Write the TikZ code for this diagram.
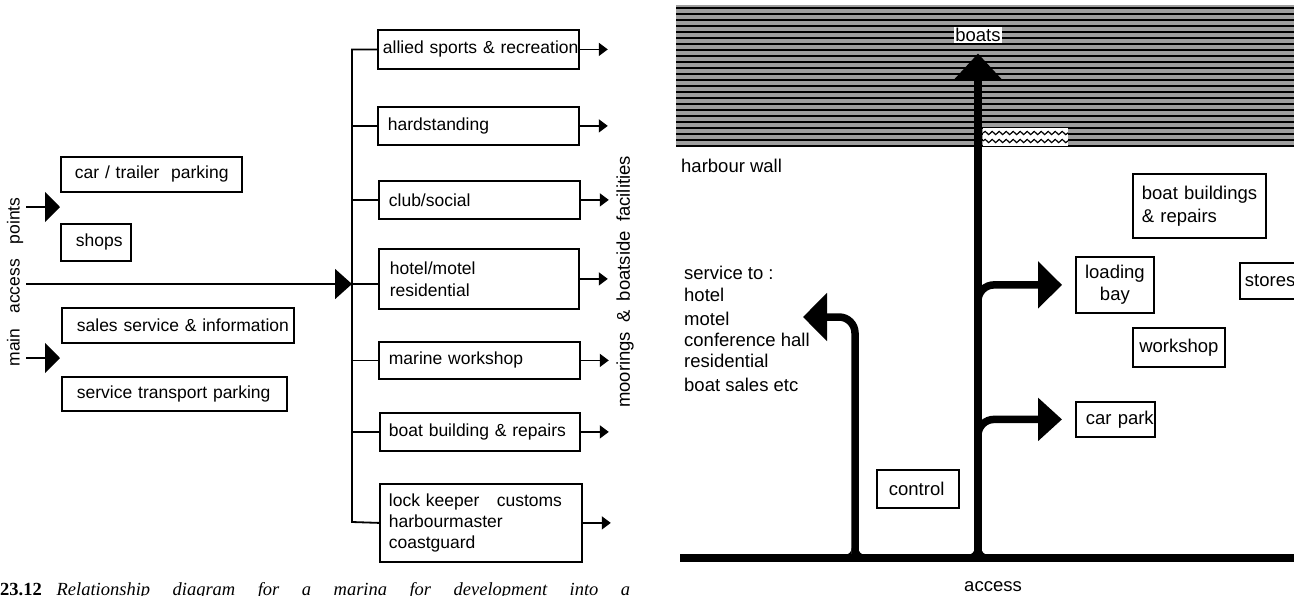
\documentclass[tikz,border=0pt]{standalone}
\usepackage{fontspec}
\setmainfont{Liberation Sans}
\newfontfamily\capfont{Liberation Serif}
\usetikzlibrary{arrows.meta,decorations.pathmorphing}
\tikzset{
  lf/.style={font=\fontsize{17.5}{21}\selectfont},
  rf/.style={font=\fontsize{18.5}{22}\selectfont},
  lbox/.style={draw, line width=1.8pt, anchor=north west, inner ysep=0pt, align=left, lf},
  rbox/.style={draw, line width=1.8pt, anchor=north west, inner ysep=0pt, rf},
  thinln/.style={line width=1.8pt},
  bigtip/.style={-{Triangle[length=15pt,width=30pt]}},
  smalltip/.style={-{Triangle[length=9pt,width=13pt]}},
  road/.style={line width=7.5pt},
}
\begin{document}
\begin{tikzpicture}[x=1pt,y=-1pt]
\useasboundingbox (0,0) rectangle (1294,595);

% ---------------- left diagram ----------------
\node[lbox, inner xsep=14pt, text width=153pt, minimum height=35pt] (car) at (60,156) {\mbox{car / trailer\ \ parking}};
\node[lbox, inner xsep=15pt, text width=40pt, minimum height=37pt] (shops) at (60,223) {shops};
\node[lbox, inner xsep=15pt, text width=202pt, minimum height=35pt] (sales) at (61,307) {\mbox{sales service \& information}};
\node[lbox, inner xsep=15pt, text width=195pt, minimum height=34pt] (stp) at (61,376) {\mbox{service transport parking}};

\node[lbox, inner xsep=5pt, text width=191pt, minimum height=39pt] (E) at (377,29) {\mbox{allied sports \& recreation}};
\node[lbox, inner xsep=10pt, text width=181pt, minimum height=38pt] (F) at (377,106) {hardstanding};
\node[lbox, inner xsep=10pt, text width=181pt, minimum height=38pt] (G) at (378,180) {club/social};
\node[lbox, inner xsep=11pt, text width=178pt, minimum height=60pt, font=\fontsize{17.5}{22}\selectfont] (H) at (378,248) {hotel/motel\\residential};
\node[lbox, inner xsep=10pt, text width=181pt, minimum height=37pt] (I) at (378,341) {marine workshop};
\node[lbox, inner xsep=9pt, text width=182pt, minimum height=38pt] (J) at (379,412) {\mbox{boat building \& repairs}};
\node[lbox, inner xsep=9pt, text width=184pt, minimum height=78pt] (K) at (379,483) {\mbox{lock keeper\ \ \ customs}\\harbourmaster\\coastguard};

\node[lf, rotate=90] (mainacc) at (15,282) {main\hspace{0.85em}access\hspace{0.85em}points};
\node[rotate=90, font=\fontsize{18.5}{22}\selectfont] (moor) at (625,282) {moorings\hspace{0.5em}\&\hspace{0.5em}boatside\hspace{0.5em}facilities};

\coordinate (a1s) at (26,207); \coordinate (a1e) at (60,207);
\coordinate (a2s) at (26,358); \coordinate (a2e) at (60,358);
\draw[thinln, bigtip] (a1s) -- (a1e);
\draw[thinln, bigtip] (a2s) -- (a2e);

\coordinate (ms) at (26,284);
\coordinate (hub) at (352,284);
\coordinate (bb) at (352,522);
\draw[thinln, -{Triangle[length=17pt,width=30pt]}] (ms) -- (hub);
\draw[thinln] (E.west) -| (bb) -- (K.west);
\foreach \b in {F,G,I,J} \draw[thinln] (\b.west) -- (\b.west -| bb);
\draw[thinln] (hub) -- (hub -| H.west);
\foreach \b in {E,F,G,H,I,J,K} \draw[thinln, smalltip] (\b.east) -- ++(28,0);

% ---------------- right diagram ----------------
\fill[black!38] (676,5) rectangle (1294,147);
\foreach \yy in {8,14,...,146} \draw[line width=1.3pt] (676,\yy) -- (1294,\yy);
\fill[white] (983,128) rectangle (1068,146);
\draw[line width=1.2pt, decorate, decoration={snake, amplitude=1.6pt, segment length=7pt}] (983,133) -- (1068,133);
\draw[line width=1.2pt, decorate, decoration={snake, amplitude=1.6pt, segment length=7pt}] (983,141) -- (1068,141);

\node[rf, fill=white, inner sep=1.5pt] (boats) at (978,35) {boats};
\node[rf, anchor=west, inner sep=0pt] (hw) at (681,166) {harbour wall};
\node[rf, anchor=north west, align=left, inner sep=0pt, font=\fontsize{18.5}{21}\selectfont] (svc) at (684,266)
  {service to :\\[1pt]hotel\\[3pt]motel\\conference hall\\residential\\[3pt]boat sales etc};

\node[rbox, inner xsep=9pt, text width=115pt, minimum height=64pt, align=left, font=\fontsize{18.5}{23}\selectfont] (bbr) at (1132,173) {\mbox{boat buildings}\\\& repairs};
\node[rbox, inner xsep=4pt, text width=70pt, minimum height=56pt, align=center] (lb) at (1075,256) {loading\\bay};
\node[rbox, inner xsep=5pt, text width=60pt, minimum height=36pt, align=left] (st) at (1239,262) {stores};
\node[rbox, inner xsep=4pt, text width=84pt, minimum height=39pt, align=center] (ws) at (1132,327) {workshop};
\node[rbox, inner xsep=10pt, text width=59pt, minimum height=35pt, align=left] (cp) at (1075,401) {\mbox{car park}};
\node[rbox, inner xsep=12pt, text width=58pt, minimum height=38pt, align=left] (ctl) at (876,469) {control};
\node[rf, inner sep=0pt] (access) at (993,587) {access};

\coordinate (accL) at (680,558);
\coordinate (accR) at (1294,558);
\coordinate (j1) at (855,558);
\coordinate (j2) at (978,558);
\coordinate (svcarrow) at (803,317);
\draw[road] (accL) -- (accR);
\draw[road, -{Triangle[length=27pt,width=48pt]}] (j2) -- ([yshift=-10pt]boats.south -| j2);
\draw[road, rounded corners=16pt, -{Triangle[length=24pt,width=46pt]}] (978,330) |- ([xshift=-13pt]lb.west);
\draw[road, rounded corners=16pt, -{Triangle[length=24pt,width=42pt]}] (978,460) |- ([xshift=-13pt]cp.west);
\draw[road, rounded corners=16pt, -{Triangle[length=24pt,width=47pt]}] (j1) |- (svcarrow);
% small fillets where the roads meet the access line
\foreach \jx in {855,978} {
  \fill (\jx-3.5,554.6) -- (\jx-3.5,548) .. controls (\jx-3.5,552) and (\jx-6,554.6) .. (\jx-10,554.6) -- cycle;
  \fill (\jx+3.5,554.6) -- (\jx+3.5,548) .. controls (\jx+3.5,552) and (\jx+6,554.6) .. (\jx+10,554.6) -- cycle;
}

% ---------------- caption ----------------
\node[anchor=base west, inner sep=0pt, font=\capfont\fontsize{18.5}{21}\selectfont] (cap) at (0,595)
  {\makebox[630pt][s]{\textbf{23.12}\hspace{0.8em}\textit{Relationship diagram for a marina for development into a}}};
\end{tikzpicture}
\end{document}
